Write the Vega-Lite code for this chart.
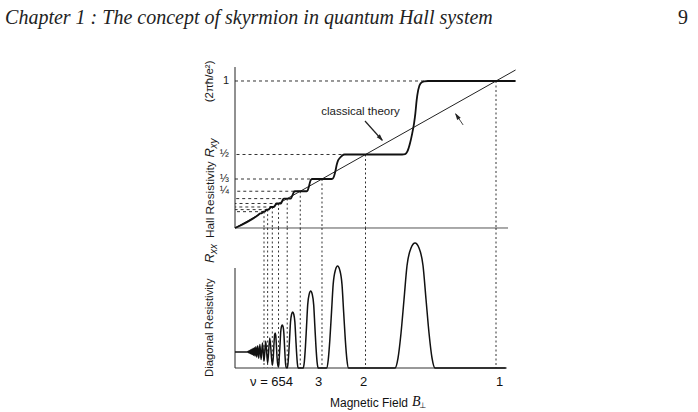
{
  "$schema": "https://vega.github.io/schema/vega-lite/v6.json",
  "width": 698,
  "height": 412,
  "autosize": {"type": "none"},
  "padding": 0,
  "background": "white",
  "config": {"view": {"stroke": null}, "font": "Liberation Sans"},
  "datasets": {
    "hall": [
      {"B": 0, "Rxy": 0}, {"B": 0.09, "Rxy": 0.0905}, {"B": 0.0965, "Rxy": 0.1}, {"B": 0.1025, "Rxy": 0.1},
      {"B": 0.1053, "Rxy": 0.1055}, {"B": 0.108, "Rxy": 0.1111}, {"B": 0.1145, "Rxy": 0.1111},
      {"B": 0.1176, "Rxy": 0.118}, {"B": 0.121, "Rxy": 0.125}, {"B": 0.129, "Rxy": 0.125},
      {"B": 0.133, "Rxy": 0.134}, {"B": 0.137, "Rxy": 0.1429}, {"B": 0.149, "Rxy": 0.1429},
      {"B": 0.152, "Rxy": 0.148}, {"B": 0.154, "Rxy": 0.155}, {"B": 0.156, "Rxy": 0.162},
      {"B": 0.159, "Rxy": 0.1667}, {"B": 0.175, "Rxy": 0.1667}, {"B": 0.178, "Rxy": 0.172},
      {"B": 0.181, "Rxy": 0.184}, {"B": 0.184, "Rxy": 0.195}, {"B": 0.188, "Rxy": 0.2},
      {"B": 0.213, "Rxy": 0.2}, {"B": 0.217, "Rxy": 0.21}, {"B": 0.221, "Rxy": 0.226},
      {"B": 0.225, "Rxy": 0.243}, {"B": 0.23, "Rxy": 0.25}, {"B": 0.2747, "Rxy": 0.25},
      {"B": 0.279, "Rxy": 0.258}, {"B": 0.283, "Rxy": 0.28}, {"B": 0.287, "Rxy": 0.31},
      {"B": 0.291, "Rxy": 0.328}, {"B": 0.296, "Rxy": 0.3333}, {"B": 0.37, "Rxy": 0.3333},
      {"B": 0.375, "Rxy": 0.336}, {"B": 0.38, "Rxy": 0.355}, {"B": 0.385, "Rxy": 0.39},
      {"B": 0.3897, "Rxy": 0.43}, {"B": 0.395, "Rxy": 0.46}, {"B": 0.4023, "Rxy": 0.478},
      {"B": 0.41, "Rxy": 0.492}, {"B": 0.42, "Rxy": 0.5}, {"B": 0.64, "Rxy": 0.5},
      {"B": 0.652, "Rxy": 0.503}, {"B": 0.66, "Rxy": 0.519}, {"B": 0.6705, "Rxy": 0.576},
      {"B": 0.679, "Rxy": 0.644}, {"B": 0.686, "Rxy": 0.712}, {"B": 0.691, "Rxy": 0.78},
      {"B": 0.696, "Rxy": 0.87}, {"B": 0.702, "Rxy": 0.94}, {"B": 0.711, "Rxy": 0.984},
      {"B": 0.725, "Rxy": 0.998}, {"B": 0.74, "Rxy": 1.0}, {"B": 1.075, "Rxy": 1.0}
    ],
    "classical": [{"B": 0, "Rxy": 0}, {"B": 1.075, "Rxy": 1.075}],
    "rxx": [
      {"B": 0, "Rxx": 0.16}, {"B": 0.045, "Rxx": 0.16}, {"B": 0.0476, "Rxx": 0.16},
      {"B": 0.0488, "Rxx": 0.163}, {"B": 0.05, "Rxx": 0.157}, {"B": 0.0513, "Rxx": 0.167},
      {"B": 0.0526, "Rxx": 0.153}, {"B": 0.0541, "Rxx": 0.171}, {"B": 0.0556, "Rxx": 0.149},
      {"B": 0.0571, "Rxx": 0.176}, {"B": 0.0588, "Rxx": 0.144}, {"B": 0.0606, "Rxx": 0.182},
      {"B": 0.0625, "Rxx": 0.139}, {"B": 0.0645, "Rxx": 0.188}, {"B": 0.0667, "Rxx": 0.134},
      {"B": 0.069, "Rxx": 0.195}, {"B": 0.0714, "Rxx": 0.127}, {"B": 0.0741, "Rxx": 0.203},
      {"B": 0.0769, "Rxx": 0.119}, {"B": 0.08, "Rxx": 0.212}, {"B": 0.0833, "Rxx": 0.11},
      {"B": 0.087, "Rxx": 0.222}, {"B": 0.0909, "Rxx": 0.098}, {"B": 0.0952, "Rxx": 0.235},
      {"B": 0.1, "Rxx": 0.085}, {"B": 0.1053, "Rxx": 0.25}, {"B": 0.1111, "Rxx": 0.068},
      {"B": 0.1176, "Rxx": 0.27}, {"B": 0.125, "Rxx": 0.048}, {"B": 0.1333, "Rxx": 0.3},
      {"B": 0.1429, "Rxx": 0.028},
      {"B": 0.1465, "Rxx": 0.1}, {"B": 0.1495, "Rxx": 0.25}, {"B": 0.1517, "Rxx": 0.33},
      {"B": 0.1538, "Rxx": 0.35}, {"B": 0.1559, "Rxx": 0.33}, {"B": 0.1581, "Rxx": 0.25},
      {"B": 0.1612, "Rxx": 0.1}, {"B": 0.1645, "Rxx": 0.025}, {"B": 0.1667, "Rxx": 0.012},
      {"B": 0.168, "Rxx": 0.035}, {"B": 0.1699, "Rxx": 0.12}, {"B": 0.1726, "Rxx": 0.237},
      {"B": 0.1749, "Rxx": 0.353}, {"B": 0.1779, "Rxx": 0.413}, {"B": 0.181, "Rxx": 0.43},
      {"B": 0.1841, "Rxx": 0.413}, {"B": 0.1871, "Rxx": 0.353}, {"B": 0.1894, "Rxx": 0.237},
      {"B": 0.1917, "Rxx": 0.12}, {"B": 0.194, "Rxx": 0.035}, {"B": 0.1963, "Rxx": 0.003},
      {"B": 0.1999, "Rxx": 0}, {"B": 0.2031, "Rxx": 0.045}, {"B": 0.2062, "Rxx": 0.157},
      {"B": 0.2094, "Rxx": 0.308}, {"B": 0.2126, "Rxx": 0.459}, {"B": 0.2168, "Rxx": 0.538},
      {"B": 0.221, "Rxx": 0.56}, {"B": 0.2252, "Rxx": 0.538}, {"B": 0.2294, "Rxx": 0.459},
      {"B": 0.2326, "Rxx": 0.308}, {"B": 0.2358, "Rxx": 0.157}, {"B": 0.2389, "Rxx": 0.045},
      {"B": 0.2421, "Rxx": 0},
      {"B": 0.2613, "Rxx": 0}, {"B": 0.2656, "Rxx": 0.062}, {"B": 0.2699, "Rxx": 0.216},
      {"B": 0.2742, "Rxx": 0.424}, {"B": 0.2785, "Rxx": 0.631}, {"B": 0.2843, "Rxx": 0.739},
      {"B": 0.29, "Rxx": 0.77}, {"B": 0.2957, "Rxx": 0.739}, {"B": 0.3015, "Rxx": 0.631},
      {"B": 0.3058, "Rxx": 0.424}, {"B": 0.3101, "Rxx": 0.216}, {"B": 0.3144, "Rxx": 0.062},
      {"B": 0.3187, "Rxx": 0},
      {"B": 0.3509, "Rxx": 0}, {"B": 0.3572, "Rxx": 0.082}, {"B": 0.3635, "Rxx": 0.286},
      {"B": 0.3698, "Rxx": 0.561}, {"B": 0.3761, "Rxx": 0.836}, {"B": 0.3846, "Rxx": 0.979},
      {"B": 0.393, "Rxx": 1.02}, {"B": 0.4014, "Rxx": 0.979}, {"B": 0.4099, "Rxx": 0.836},
      {"B": 0.4162, "Rxx": 0.561}, {"B": 0.4225, "Rxx": 0.286}, {"B": 0.4288, "Rxx": 0.082},
      {"B": 0.4351, "Rxx": 0},
      {"B": 0.6131, "Rxx": 0}, {"B": 0.6246, "Rxx": 0.1}, {"B": 0.6361, "Rxx": 0.35},
      {"B": 0.6476, "Rxx": 0.6875}, {"B": 0.6591, "Rxx": 1.025}, {"B": 0.6744, "Rxx": 1.2},
      {"B": 0.6897, "Rxx": 1.25}, {"B": 0.705, "Rxx": 1.2}, {"B": 0.7203, "Rxx": 1.025},
      {"B": 0.7318, "Rxx": 0.6875}, {"B": 0.7433, "Rxx": 0.35}, {"B": 0.7548, "Rxx": 0.1},
      {"B": 0.7663, "Rxx": 0}, {"B": 1.04, "Rxx": 0}
    ],
    "levels": [
      {"nu": 1, "v": 1, "frac": "1"}, {"nu": 2, "v": 0.5, "frac": "½"}, {"nu": 3, "v": 0.3333, "frac": "⅓"},
      {"nu": 4, "v": 0.25, "frac": "¼"}, {"nu": 5, "v": 0.2, "frac": ""}, {"nu": 6, "v": 0.1667, "frac": ""},
      {"nu": 7, "v": 0.1429, "frac": ""}, {"nu": 8, "v": 0.125, "frac": ""}, {"nu": 9, "v": 0.1111, "frac": ""}
    ]
  },
  "resolve": {"scale": {"y": "independent"}},
  "layer": [
    {
      "layer": [
        {
          "data": {"name": "levels"},
          "mark": {"type": "rule", "color": "#333", "strokeWidth": 1, "strokeDash": [3, 3]},
          "encoding": {
            "x": {"field": "v", "type": "quantitative", "scale": {"domain": [-0.9004, 1.7739], "nice": false, "zero": false}, "axis": null},
            "x2": {"datum": 0},
            "y": {"field": "v", "type": "quantitative", "scale": {"domain": [-1.2517, 1.551], "nice": false, "zero": false}, "axis": null}
          }
        },
        {
          "data": {"name": "levels"},
          "mark": {"type": "rule", "color": "#333", "strokeWidth": 1, "strokeDash": [2, 2.5]},
          "encoding": {
            "x": {"field": "v", "type": "quantitative", "scale": {"domain": [-0.9004, 1.7739], "nice": false, "zero": false}, "axis": null},
            "y": {"field": "v", "type": "quantitative", "scale": {"domain": [-1.2517, 1.551], "nice": false, "zero": false}, "axis": null},
            "y2": {"datum": 0}
          }
        },
        {
          "data": {"name": "levels"},
          "mark": {"type": "text", "fontSize": 11, "align": "right", "baseline": "middle", "dx": -6, "color": "#1a1a1a"},
          "encoding": {
            "x": {"datum": 0, "type": "quantitative", "scale": {"domain": [-0.9004, 1.7739], "nice": false, "zero": false}, "axis": null},
            "y": {"field": "v", "type": "quantitative", "scale": {"domain": [-1.2517, 1.551], "nice": false, "zero": false}, "axis": null},
            "text": {"field": "frac"}
          }
        },
        {
          "data": {"values": [{}]},
          "mark": {"type": "rule", "color": "#222", "strokeWidth": 1},
          "encoding": {
            "x": {"datum": 0, "type": "quantitative", "scale": {"domain": [-0.9004, 1.7739], "nice": false, "zero": false}, "axis": null},
            "y": {"datum": 0, "type": "quantitative", "scale": {"domain": [-1.2517, 1.551], "nice": false, "zero": false}, "axis": null},
            "y2": {"datum": 1.095}
          }
        },
        {
          "data": {"values": [{}]},
          "mark": {"type": "rule", "color": "#555", "strokeWidth": 1},
          "encoding": {
            "x": {"datum": 0, "type": "quantitative", "scale": {"domain": [-0.9004, 1.7739], "nice": false, "zero": false}, "axis": null},
            "x2": {"datum": 1.046},
            "y": {"datum": 0, "type": "quantitative", "scale": {"domain": [-1.2517, 1.551], "nice": false, "zero": false}, "axis": null}
          }
        },
        {
          "data": {"name": "classical"},
          "mark": {"type": "line", "color": "#222", "strokeWidth": 1},
          "encoding": {
            "x": {"field": "B", "type": "quantitative", "scale": {"domain": [-0.9004, 1.7739], "nice": false, "zero": false}, "axis": null},
            "y": {"field": "Rxy", "type": "quantitative", "scale": {"domain": [-1.2517, 1.551], "nice": false, "zero": false}, "axis": null}
          }
        },
        {
          "data": {"name": "hall"},
          "mark": {"type": "line", "color": "#111", "strokeWidth": 1.8, "interpolate": "monotone"},
          "encoding": {
            "x": {"field": "B", "type": "quantitative", "scale": {"domain": [-0.9004, 1.7739], "nice": false, "zero": false}, "axis": null},
            "y": {"field": "Rxy", "type": "quantitative", "scale": {"domain": [-1.2517, 1.551], "nice": false, "zero": false}, "axis": null}
          }
        },
        {
          "data": {"values": [{}]},
          "mark": {"type": "text", "text": "Chapter 1 :  The concept of skyrmion in quantum Hall system", "font": "Liberation Serif", "fontStyle": "italic", "fontSize": 20, "align": "left", "baseline": "middle", "color": "#222"},
          "encoding": {
            "x": {"datum": -0.881, "type": "quantitative", "scale": {"domain": [-0.9004, 1.7739], "nice": false, "zero": false}, "axis": null},
            "y": {"datum": 1.4286, "type": "quantitative", "scale": {"domain": [-1.2517, 1.551], "nice": false, "zero": false}, "axis": null}
          }
        },
        {
          "data": {"values": [{}]},
          "mark": {"type": "text", "text": "9", "font": "Liberation Serif", "fontSize": 20, "align": "center", "baseline": "middle", "color": "#222"},
          "encoding": {
            "x": {"datum": 1.7165, "type": "quantitative", "scale": {"domain": [-0.9004, 1.7739], "nice": false, "zero": false}, "axis": null},
            "y": {"datum": 1.4286, "type": "quantitative", "scale": {"domain": [-1.2517, 1.551], "nice": false, "zero": false}, "axis": null}
          }
        },
        {
          "data": {"values": [{}]},
          "mark": {"type": "text", "text": "classical theory", "fontSize": 11.5, "align": "center", "baseline": "middle", "color": "#1a1a1a"},
          "encoding": {
            "x": {"datum": 0.4808, "type": "quantitative", "scale": {"domain": [-0.9004, 1.7739], "nice": false, "zero": false}, "axis": null},
            "y": {"datum": 0.789, "type": "quantitative", "scale": {"domain": [-1.2517, 1.551], "nice": false, "zero": false}, "axis": null}
          }
        },
        {
          "data": {"values": [{}]},
          "mark": {"type": "rule", "color": "#222", "strokeWidth": 1.2},
          "encoding": {
            "x": {"datum": 0.498, "type": "quantitative", "scale": {"domain": [-0.9004, 1.7739], "nice": false, "zero": false}, "axis": null},
            "x2": {"datum": 0.564},
            "y": {"datum": 0.728, "type": "quantitative", "scale": {"domain": [-1.2517, 1.551], "nice": false, "zero": false}, "axis": null},
            "y2": {"datum": 0.597}
          }
        },
        {
          "data": {"values": [{}]},
          "mark": {"type": "point", "shape": "M0,0L-0.3,1L0.3,1Z", "size": 196, "filled": true, "opacity": 1, "color": "#222", "angle": 138},
          "encoding": {
            "x": {"datum": 0.567, "type": "quantitative", "scale": {"domain": [-0.9004, 1.7739], "nice": false, "zero": false}, "axis": null},
            "y": {"datum": 0.592, "type": "quantitative", "scale": {"domain": [-1.2517, 1.551], "nice": false, "zero": false}, "axis": null}
          }
        },
        {
          "data": {"values": [{}]},
          "mark": {"type": "rule", "color": "#444", "strokeWidth": 1},
          "encoding": {
            "x": {"datum": 0.874, "type": "quantitative", "scale": {"domain": [-0.9004, 1.7739], "nice": false, "zero": false}, "axis": null},
            "x2": {"datum": 0.846},
            "y": {"datum": 0.701, "type": "quantitative", "scale": {"domain": [-1.2517, 1.551], "nice": false, "zero": false}, "axis": null},
            "y2": {"datum": 0.775}
          }
        },
        {
          "data": {"values": [{}]},
          "mark": {"type": "point", "shape": "M0,0L-0.3,1L0.3,1Z", "size": 196, "filled": true, "opacity": 1, "color": "#222", "angle": 326},
          "encoding": {
            "x": {"datum": 0.843, "type": "quantitative", "scale": {"domain": [-0.9004, 1.7739], "nice": false, "zero": false}, "axis": null},
            "y": {"datum": 0.782, "type": "quantitative", "scale": {"domain": [-1.2517, 1.551], "nice": false, "zero": false}, "axis": null}
          }
        },
        {
          "data": {"values": [{}]},
          "mark": {"type": "text", "text": "Hall Resistivity", "fontSize": 11.8, "angle": -90, "align": "left", "baseline": "middle", "color": "#1a1a1a"},
          "encoding": {
            "x": {"datum": -0.094, "type": "quantitative", "scale": {"domain": [-0.9004, 1.7739], "nice": false, "zero": false}, "axis": null},
            "y": {"datum": -0.068, "type": "quantitative", "scale": {"domain": [-1.2517, 1.551], "nice": false, "zero": false}, "axis": null}
          }
        },
        {
          "data": {"values": [{}]},
          "mark": {"type": "text", "text": "R", "fontSize": 13, "fontStyle": "italic", "angle": -90, "align": "left", "baseline": "middle", "color": "#1a1a1a"},
          "encoding": {
            "x": {"datum": -0.094, "type": "quantitative", "scale": {"domain": [-0.9004, 1.7739], "nice": false, "zero": false}, "axis": null},
            "y": {"datum": 0.48, "type": "quantitative", "scale": {"domain": [-1.2517, 1.551], "nice": false, "zero": false}, "axis": null}
          }
        },
        {
          "data": {"values": [{}]},
          "mark": {"type": "text", "text": "xy", "fontSize": 10, "fontStyle": "italic", "angle": -90, "align": "left", "baseline": "middle", "color": "#1a1a1a"},
          "encoding": {
            "x": {"datum": -0.08, "type": "quantitative", "scale": {"domain": [-0.9004, 1.7739], "nice": false, "zero": false}, "axis": null},
            "y": {"datum": 0.54, "type": "quantitative", "scale": {"domain": [-1.2517, 1.551], "nice": false, "zero": false}, "axis": null}
          }
        },
        {
          "data": {"values": [{}]},
          "mark": {"type": "text", "text": "(2πħ/e²)", "fontSize": 11.5, "angle": -90, "align": "left", "baseline": "middle", "color": "#1a1a1a"},
          "encoding": {
            "x": {"datum": -0.094, "type": "quantitative", "scale": {"domain": [-0.9004, 1.7739], "nice": false, "zero": false}, "axis": null},
            "y": {"datum": 0.855, "type": "quantitative", "scale": {"domain": [-1.2517, 1.551], "nice": false, "zero": false}, "axis": null}
          }
        }
      ]
    },
    {
      "layer": [
        {
          "data": {"name": "levels"},
          "mark": {"type": "rule", "color": "#333", "strokeWidth": 1, "strokeDash": [2, 2.5]},
          "encoding": {
            "x": {"field": "v", "type": "quantitative", "scale": {"domain": [-0.9004, 1.7739], "nice": false, "zero": false}, "axis": null},
            "y": {"datum": 1.4, "type": "quantitative", "scale": {"domain": [-0.44, 3.68], "nice": false, "zero": false}, "axis": null},
            "y2": {"datum": 0}
          }
        },
        {
          "data": {"values": [{}]},
          "mark": {"type": "rule", "color": "#222", "strokeWidth": 1},
          "encoding": {
            "x": {"datum": 0, "type": "quantitative", "scale": {"domain": [-0.9004, 1.7739], "nice": false, "zero": false}, "axis": null},
            "y": {"datum": 0, "type": "quantitative", "scale": {"domain": [-0.44, 3.68], "nice": false, "zero": false}, "axis": null},
            "y2": {"datum": 1.0}
          }
        },
        {
          "data": {"values": [{}]},
          "mark": {"type": "rule", "color": "#333", "strokeWidth": 1},
          "encoding": {
            "x": {"datum": 0, "type": "quantitative", "scale": {"domain": [-0.9004, 1.7739], "nice": false, "zero": false}, "axis": null},
            "x2": {"datum": 1.035},
            "y": {"datum": 0, "type": "quantitative", "scale": {"domain": [-0.44, 3.68], "nice": false, "zero": false}, "axis": null}
          }
        },
        {
          "data": {"name": "rxx"},
          "mark": {"type": "line", "color": "#111", "strokeWidth": 1.5, "interpolate": "monotone"},
          "encoding": {
            "x": {"field": "B", "type": "quantitative", "scale": {"domain": [-0.9004, 1.7739], "nice": false, "zero": false}, "axis": null},
            "y": {"field": "Rxx", "type": "quantitative", "scale": {"domain": [-0.44, 3.68], "nice": false, "zero": false}, "axis": null}
          }
        },
        {
          "data": {"values": [{}]},
          "mark": {"type": "text", "text": "Diagonal Resistivity", "fontSize": 11.3, "angle": -90, "align": "left", "baseline": "middle", "color": "#1a1a1a"},
          "encoding": {
            "x": {"datum": -0.094, "type": "quantitative", "scale": {"domain": [-0.9004, 1.7739], "nice": false, "zero": false}, "axis": null},
            "y": {"datum": -0.09, "type": "quantitative", "scale": {"domain": [-0.44, 3.68], "nice": false, "zero": false}, "axis": null}
          }
        },
        {
          "data": {"values": [{}]},
          "mark": {"type": "text", "text": "R", "fontSize": 13, "fontStyle": "italic", "angle": -90, "align": "left", "baseline": "middle", "color": "#1a1a1a"},
          "encoding": {
            "x": {"datum": -0.094, "type": "quantitative", "scale": {"domain": [-0.9004, 1.7739], "nice": false, "zero": false}, "axis": null},
            "y": {"datum": 1.05, "type": "quantitative", "scale": {"domain": [-0.44, 3.68], "nice": false, "zero": false}, "axis": null}
          }
        },
        {
          "data": {"values": [{}]},
          "mark": {"type": "text", "text": "xx", "fontSize": 10, "fontStyle": "italic", "angle": -90, "align": "left", "baseline": "middle", "color": "#1a1a1a"},
          "encoding": {
            "x": {"datum": -0.08, "type": "quantitative", "scale": {"domain": [-0.9004, 1.7739], "nice": false, "zero": false}, "axis": null},
            "y": {"datum": 1.14, "type": "quantitative", "scale": {"domain": [-0.44, 3.68], "nice": false, "zero": false}, "axis": null}
          }
        },
        {
          "data": {"values": [{}]},
          "mark": {"type": "text", "text": "ν = 654", "fontSize": 13, "align": "left", "baseline": "middle", "color": "#111"},
          "encoding": {
            "x": {"datum": 0.0575, "type": "quantitative", "scale": {"domain": [-0.9004, 1.7739], "nice": false, "zero": false}, "axis": null},
            "y": {"datum": -0.14, "type": "quantitative", "scale": {"domain": [-0.44, 3.68], "nice": false, "zero": false}, "axis": null}
          }
        },
        {
          "data": {"values": [{}]},
          "mark": {"type": "text", "text": "3", "fontSize": 13, "align": "center", "baseline": "middle", "color": "#111"},
          "encoding": {
            "x": {"datum": 0.3199, "type": "quantitative", "scale": {"domain": [-0.9004, 1.7739], "nice": false, "zero": false}, "axis": null},
            "y": {"datum": -0.14, "type": "quantitative", "scale": {"domain": [-0.44, 3.68], "nice": false, "zero": false}, "axis": null}
          }
        },
        {
          "data": {"values": [{}]},
          "mark": {"type": "text", "text": "2", "fontSize": 13, "align": "center", "baseline": "middle", "color": "#111"},
          "encoding": {
            "x": {"datum": 0.4923, "type": "quantitative", "scale": {"domain": [-0.9004, 1.7739], "nice": false, "zero": false}, "axis": null},
            "y": {"datum": -0.14, "type": "quantitative", "scale": {"domain": [-0.44, 3.68], "nice": false, "zero": false}, "axis": null}
          }
        },
        {
          "data": {"values": [{}]},
          "mark": {"type": "text", "text": "1", "fontSize": 13, "align": "center", "baseline": "middle", "color": "#111"},
          "encoding": {
            "x": {"datum": 1.0134, "type": "quantitative", "scale": {"domain": [-0.9004, 1.7739], "nice": false, "zero": false}, "axis": null},
            "y": {"datum": -0.14, "type": "quantitative", "scale": {"domain": [-0.44, 3.68], "nice": false, "zero": false}, "axis": null}
          }
        },
        {
          "data": {"values": [{}]},
          "mark": {"type": "text", "text": "Magnetic Field", "fontSize": 12, "align": "left", "baseline": "middle", "color": "#111"},
          "encoding": {
            "x": {"datum": 0.364, "type": "quantitative", "scale": {"domain": [-0.9004, 1.7739], "nice": false, "zero": false}, "axis": null},
            "y": {"datum": -0.35, "type": "quantitative", "scale": {"domain": [-0.44, 3.68], "nice": false, "zero": false}, "axis": null}
          }
        },
        {
          "data": {"values": [{}]},
          "mark": {"type": "text", "text": "B", "font": "Liberation Serif", "fontStyle": "italic", "fontSize": 14, "align": "left", "baseline": "middle", "color": "#111"},
          "encoding": {
            "x": {"datum": 0.678, "type": "quantitative", "scale": {"domain": [-0.9004, 1.7739], "nice": false, "zero": false}, "axis": null},
            "y": {"datum": -0.34, "type": "quantitative", "scale": {"domain": [-0.44, 3.68], "nice": false, "zero": false}, "axis": null}
          }
        },
        {
          "data": {"values": [{}]},
          "mark": {"type": "text", "text": "⊥", "font": "DejaVu Sans", "fontSize": 8, "align": "left", "baseline": "middle", "color": "#111"},
          "encoding": {
            "x": {"datum": 0.707, "type": "quantitative", "scale": {"domain": [-0.9004, 1.7739], "nice": false, "zero": false}, "axis": null},
            "y": {"datum": -0.38, "type": "quantitative", "scale": {"domain": [-0.44, 3.68], "nice": false, "zero": false}, "axis": null}
          }
        }
      ]
    }
  ]
}
